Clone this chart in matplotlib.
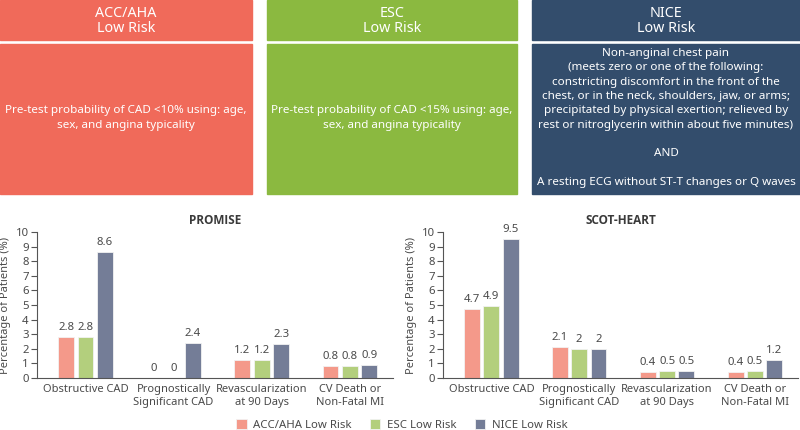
import numpy as np
import matplotlib
matplotlib.use("Agg")
import matplotlib.pyplot as plt
from matplotlib.patches import Rectangle

plt.rcParams["font.family"] = ["Noto Sans", "DejaVu Sans"]

# -- Data ---------------------------------------------------------------------
categories = ["Obstructive CAD", "Prognostically\nSignificant CAD",
              "Revascularization\nat 90 Days", "CV Death or\nNon-Fatal MI"]
series_names = ["ACC/AHA Low Risk", "ESC Low Risk", "NICE Low Risk"]

promise_acc  = [2.8, 0, 1.2, 0.8]
promise_esc  = [2.8, 0, 1.2, 0.8]
promise_nice = [8.6, 2.4, 2.3, 0.9]

scot_acc  = [4.7, 2.1, 0.4, 0.4]
scot_esc  = [4.9, 2.0, 0.5, 0.5]
scot_nice = [9.5, 2.0, 0.5, 1.2]

box_titles = ["ACC/AHA\nLow Risk", "ESC\nLow Risk", "NICE\nLow Risk"]
box_texts = [
    "Pre-test probability of CAD <10% using: age,\nsex, and angina typicality",
    "Pre-test probability of CAD <15% using: age,\nsex, and angina typicality",
    "Non-anginal chest pain\n(meets zero or one of the following:\n"
    "constricting discomfort in the front of the\n"
    "chest, or in the neck, shoulders, jaw, or arms;\n"
    "precipitated by physical exertion; relieved by\n"
    "rest or nitroglycerin within about five minutes)\n\nAND\n\n"
    "A resting ECG without ST-T changes or Q waves",
]

BOX_COLOURS = ["#F06A5A", "#8BB940", "#334D6C"]
BAR_COLOURS = ["#F4998A", "#B3CF7D", "#747D97"]
TEXT_GREY = "#4a4a4a"

W, H = 800, 430
fig = plt.figure(figsize=(8, 4.3), dpi=100)

# -- Header boxes (pixel layout converted to figure fractions) ---------------
box_x = [(0, 252), (267, 517), (532, 800)]
for (x0, x1), col, title, body in zip(box_x, BOX_COLOURS, box_titles, box_texts):
    # header
    fig.patches.append(Rectangle((x0 / W, 1 - 40 / H), (x1 - x0) / W, 40 / H,
                                 transform=fig.transFigure, color=col, zorder=0))
    # body
    fig.patches.append(Rectangle((x0 / W, 1 - 194 / H), (x1 - x0) / W, 150 / H,
                                 transform=fig.transFigure, color=col, zorder=0))
    cx = (x0 + x1) / 2 / W
    fig.text(cx, 1 - 21 / H, title, ha="center", va="center", color="white",
             fontsize=10.3, linespacing=1.08, fontweight="medium")
    fig.text(cx, 1 - 118 / H, body, ha="center", va="center", color="white",
             fontsize=8.4, linespacing=1.42)

# -- Bar charts --------------------------------------------------------------
x = np.arange(len(categories))
width = 0.18
offsets = [-0.22, 0, 0.22]


def draw_chart(ax, title, acc, esc, nice):
    handles = []
    for vals, off, col, name in zip([acc, esc, nice], offsets, BAR_COLOURS, series_names):
        bars = ax.bar(x + off, vals, width, color=col, edgecolor="#f2f2f2",
                      linewidth=0.6, label=name)
        ax.bar_label(bars, labels=[f"{v:g}" for v in vals], padding=3,
                     fontsize=8.2, color=TEXT_GREY)
        handles.append(bars)
    ax.set_ylim(0, 10)
    ax.set_yticks(range(0, 11))
    ax.set_xlim(-0.55, 3.49)
    ax.set_xticks(x)
    ax.set_xticklabels(categories, fontsize=8, color=TEXT_GREY, linespacing=1.25)
    ax.tick_params(axis="x", length=0, pad=4)
    ax.tick_params(axis="y", length=4, width=0.8, colors="#555555",
                   labelsize=8.2, labelcolor=TEXT_GREY, pad=2)
    ax.set_ylabel("Percentage of Patients (%)", fontsize=8, color=TEXT_GREY, labelpad=3)
    ax.set_title(title, fontsize=8.5, fontweight="bold", color="#3a3a3a", pad=6,
                 family=["Open Sans", "DejaVu Sans"])
    ax.spines[["top", "right"]].set_visible(False)
    for s in ("left", "bottom"):
        ax.spines[s].set_color("#555555")
        ax.spines[s].set_linewidth(0.8)
    return handles


ax1 = fig.add_axes([37 / W, 52 / H, 356 / W, 146 / H])
ax2 = fig.add_axes([443 / W, 52 / H, 355 / W, 146 / H])
handles = draw_chart(ax1, "PROMISE", promise_acc, promise_esc, promise_nice)
draw_chart(ax2, "SCOT-HEART", scot_acc, scot_esc, scot_nice)

fig.legend(handles, series_names, loc="center", bbox_to_anchor=(402 / W, 1 - 425 / H),
           ncol=3, frameon=False, fontsize=8.2, handlelength=0.9, handleheight=0.9,
           handletextpad=0.6, columnspacing=1.6, labelcolor=TEXT_GREY)

fig.savefig("out.png", dpi=100)
